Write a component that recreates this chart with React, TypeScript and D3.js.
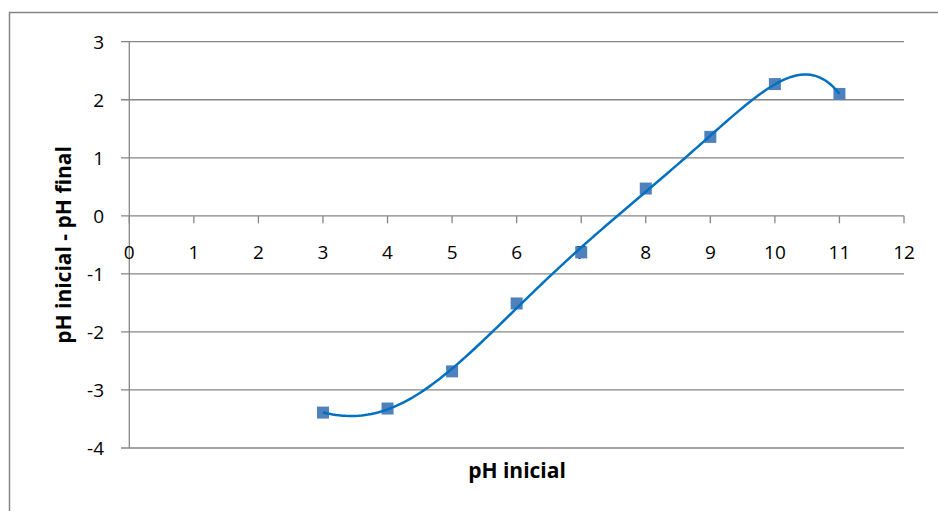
import React from "react";
import * as d3 from "d3";

const phInicial = [3, 4, 5, 6, 7, 8, 9, 10, 11];
const deltaPh = [-3.39, -3.32, -2.68, -1.51, -0.63, 0.47, 1.36, 2.27, 2.1];
const xTicks = [0, 1, 2, 3, 4, 5, 6, 7, 8, 9, 10, 11, 12];
const yTicks = [3, 2, 1, 0, -1, -2, -3, -4];
const trendOrder = 6;

function polyFit(xs: number[], ys: number[], deg: number): number[] {
  const n = deg + 1;
  const A: number[][] = Array.from({ length: n }, () => new Array(n + 1).fill(0));
  for (let i = 0; i < xs.length; i++) {
    for (let r = 0; r < n; r++) {
      for (let c = 0; c < n; c++) A[r][c] += Math.pow(xs[i], r + c);
      A[r][n] += ys[i] * Math.pow(xs[i], r);
    }
  }
  for (let i = 0; i < n; i++) {
    let p = i;
    for (let k = i + 1; k < n; k++) if (Math.abs(A[k][i]) > Math.abs(A[p][i])) p = k;
    [A[i], A[p]] = [A[p], A[i]];
    for (let k = i + 1; k < n; k++) {
      const f = A[k][i] / A[i][i];
      for (let j = i; j <= n; j++) A[k][j] -= f * A[i][j];
    }
  }
  const coef = new Array(n).fill(0);
  for (let i = n - 1; i >= 0; i--) {
    let s = A[i][n];
    for (let j = i + 1; j < n; j++) s -= A[i][j] * coef[j];
    coef[i] = s / A[i][i];
  }
  return coef;
}

export default function App() {
  const W = 938, H = 511;
  const x = d3.scaleLinear().domain([0, 12]).range([129.3, 904]);
  const y = d3.scaleLinear().domain([-4, 3]).range([448, 41.7]);
  const font = "'Open Sans', sans-serif";
  const grid = "#868686";
  const c = polyFit(phInicial, deltaPh, trendOrder);
  const xs = d3.range(3, 11.0001, 0.05);
  const pts: [number, number][] = xs.map((v) => [v, c.reduce((s, a, i) => s + a * Math.pow(v, i), 0)]);
  const trend = d3.line<[number, number]>().x((d) => x(d[0])).y((d) => y(d[1])).curve(d3.curveLinear)(pts) || "";
  return (
    <svg width={W} height={H} style={{ position: "absolute", left: 0, top: 0 }}>
      <rect x={0} y={0} width={W} height={H} fill="white" />
      <path d={`M9.5,${H} V12.5 H${W}`} fill="none" stroke={grid} strokeWidth={1.5} />
      {yTicks.map((t) => (
        <g key={t}>
          <line x1={121} x2={904} y1={y(t)} y2={y(t)} stroke={grid} strokeWidth={1.3} />
          <text x={104} y={y(t)} dy="0.36em" textAnchor="end" fontFamily={font} fontSize={19} fill="#000">{t}</text>
        </g>
      ))}
      <line x1={x(0)} x2={x(0)} y1={y(3)} y2={y(-4)} stroke={grid} strokeWidth={1.3} />
      {xTicks.map((t) => (
        <g key={t}>
          <line x1={x(t)} x2={x(t)} y1={y(0)} y2={y(0) + 7.5} stroke={grid} strokeWidth={1.3} />
          <text x={x(t)} y={258.5} textAnchor="middle" fontFamily={font} fontSize={19} fill="#000">{t}</text>
        </g>
      ))}
      {phInicial.map((v, i) => (
        <rect key={v} x={x(v) - 6} y={y(deltaPh[i]) - 6} width={12} height={12} fill="#4F81BD" />
      ))}
      <path d={trend} fill="none" stroke="#0070C0" strokeWidth={2.5} />
      <text x={517} y={478} textAnchor="middle" fontFamily={font} fontSize={21} fontWeight="bold">pH inicial</text>
      <text transform={`translate(71,245) rotate(-90)`} textAnchor="middle" fontFamily={font} fontSize={21} fontWeight="bold">pH inicial - pH final</text>
    </svg>
  );
}
